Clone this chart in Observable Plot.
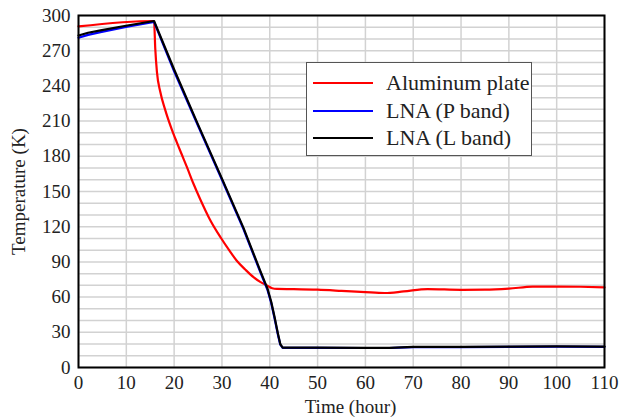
<!DOCTYPE html>
<html><head><meta charset="utf-8">
<script src="https://cdn.jsdelivr.net/npm/d3@7"></script>
<script src="https://cdn.jsdelivr.net/npm/@observablehq/plot@0.6"></script>
<style>
body{margin:0;background:#fff}
#wrap{position:relative;width:621px;height:418px;font-family:"Liberation Serif","Times New Roman",serif}
#legend{position:absolute;left:306px;top:62px;width:226px;height:94px;border:1.5px solid #555;background:#fff;box-sizing:border-box}
.item{position:absolute;left:0;height:28px;display:flex;align-items:center;font-size:22px;color:#222;white-space:nowrap}
.sw{display:inline-block;width:60px;height:0;border-top:2.5px solid;margin-left:6px;margin-right:13px}
</style></head>
<body><div id="wrap"></div>
<script>
const seriesNames = ["Aluminum plate", "LNA (P band)", "LNA (L band)"];
const seriesColors = ["#ff0000", "#0000ff", "#000000"];
const alTime = [0, 15.8, 16.05, 16.4, 17.1, 18.1, 19.5, 20.5, 21.6, 22.7, 24, 25.5, 27.5, 29.7, 31.5, 33.1, 35, 36.6, 38, 39.4, 40.5, 41.5, 45, 50, 55, 60, 64, 68, 73, 80, 85, 90, 95, 100, 105, 110];
const alTemp = [290.7, 295.3, 272, 252, 235, 220, 203, 192.5, 181.5, 170.5, 157, 143, 126, 111, 100, 91, 83, 77, 73, 70, 67.5, 67, 66.8, 66.3, 65.3, 64.2, 63.5, 64.8, 66.8, 66.2, 66.3, 67.2, 68.9, 69, 68.8, 68.3];
const pTime = [0, 2, 4.6, 10.2, 15.8, 20, 25, 30, 34.5, 38, 39.5, 40.3, 41, 41.7, 42.2, 42.7, 50, 60, 65, 70, 80, 90, 100, 110];
const pTemp = [281, 283.5, 285.8, 290.5, 294.5, 252.5, 206, 160, 118, 81.5, 66.5, 55, 42, 28, 19.5, 16.8, 16.8, 16.6, 16.6, 17.3, 17.4, 17.6, 17.8, 17.6];
const lTime = [0, 2, 4.6, 10.2, 15.8, 20, 25, 30, 34.5, 38, 39.5, 40.3, 41, 41.7, 42.2, 42.7, 50, 60, 65, 70, 80, 90, 100, 110];
const lTemp = [283, 285.3, 287.3, 291.5, 295.3, 254, 207, 161, 119, 82.5, 67.5, 56, 43, 29, 20, 17, 17, 16.8, 16.8, 17.5, 17.6, 17.8, 18, 17.8];
const xTicks = [0, 10, 20, 30, 40, 50, 60, 70, 80, 90, 100, 110];
const yTicks = [0, 30, 60, 90, 120, 150, 180, 210, 240, 270, 300];
const xLabel = "Time (hour)";
const yLabel = "Temperature (K)";

const toRows = (t, v, i) => t.map((x, j) => ({series: seriesNames[i], time: x, temp: v[j]}));
const alRows = toRows(alTime, alTemp, 0);
const lnaRows = [...toRows(pTime, pTemp, 1), ...toRows(lTime, lTemp, 2)];

const serif = '"Liberation Serif","Times New Roman",serif';
const chart = Plot.plot({
  width: 621, height: 418,
  marginLeft: 78, marginRight: 17, marginTop: 15, marginBottom: 51,
  style: {fontFamily: serif, fontSize: "19px", color: "#222", background: "#fff"},
  x: {domain: [0, 110], label: null},
  y: {domain: [0, 300], label: null},
  color: {domain: seriesNames, range: seriesColors},
  marks: [
    Plot.gridX(d3.range(0, 111, 10), {stroke: "#d2d2d2", strokeOpacity: 1, strokeWidth: 1.5}),
    Plot.gridY(d3.range(0, 301, 10), {stroke: "#d2d2d2", strokeOpacity: 1, strokeWidth: 1.5}),
    Plot.line(alRows, {x: "time", y: "temp", z: "series", stroke: "series", strokeWidth: 2.2, curve: "monotone-x"}),
    Plot.line(lnaRows, {x: "time", y: "temp", z: "series", stroke: "series", strokeWidth: 2.2, curve: "linear", strokeLinejoin: "round"}),
    Plot.frame({stroke: "#000", strokeWidth: 2}),
    Plot.axisX(xTicks, {tickSize: 0, tickPadding: 8, fontSize: 19, label: null}),
    Plot.axisY(yTicks, {tickSize: 0, tickPadding: 8, fontSize: 19, label: null}),
    Plot.text([xLabel], {text: d => d, frameAnchor: "bottom", lineAnchor: "middle", textAnchor: "middle", dy: 39, dx: 9, fontSize: 19}),
    Plot.text([yLabel], {text: d => d, frameAnchor: "left", lineAnchor: "middle", textAnchor: "middle", rotate: -90, dx: -60, fontSize: 19})
  ]
});
const wrap = document.getElementById("wrap");
wrap.appendChild(chart);
const leg = document.createElement("div");
leg.id = "legend";
seriesNames.forEach((n, i) => {
  const it = document.createElement("div");
  it.className = "item";
  it.style.top = (6 + i * 27.5) + "px";
  it.innerHTML = `<span class="sw" style="border-color:${seriesColors[i]}"></span><span>${n}</span>`;
  leg.appendChild(it);
});
wrap.appendChild(leg);
</script>
</body></html>
